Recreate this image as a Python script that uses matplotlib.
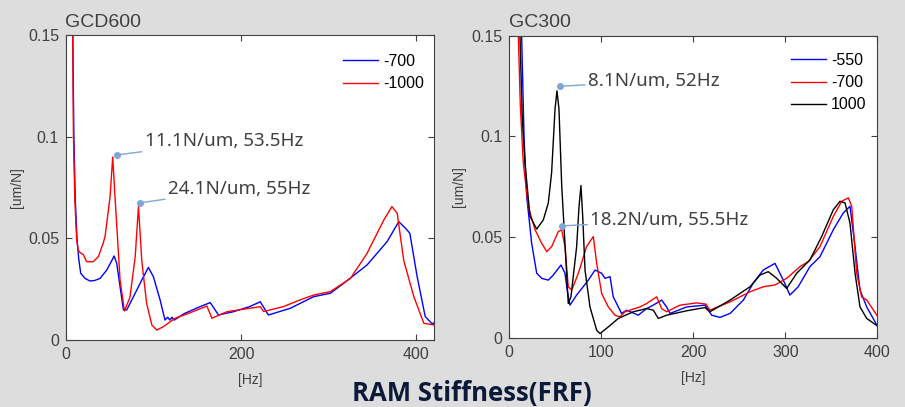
import numpy as np
import matplotlib.pyplot as plt

# GCD600 panel
gcd_hz_700 = [6.5, 7.7, 9, 10.5, 12.5, 14.5, 16.8, 21.7, 27.4, 33, 38.9, 46.5, 52.2, 54.9, 57.9,
              61.7, 65.5, 69.3, 77, 86.5, 94, 99.8, 107.4, 113, 116, 118.5, 121, 123.5, 125, 135,
              153, 164.6, 174, 191, 210, 221.7, 227.4, 231, 256, 282.6, 301.7, 317, 343.6,
              366.5, 379.8, 387.4, 392.4, 400.8, 410, 418, 420]
gcd_val_700 = [0.2, 0.15, 0.1, 0.07, 0.05, 0.04, 0.0328, 0.0303, 0.029, 0.0293, 0.0303, 0.0344,
               0.039, 0.0413, 0.0377, 0.0262, 0.0148, 0.0148, 0.0213, 0.0295, 0.0357, 0.0311,
               0.0197, 0.0098, 0.0112, 0.0098, 0.0112, 0.0098, 0.0102, 0.013, 0.0164, 0.0184,
               0.0123, 0.0139, 0.0165, 0.0188, 0.0148, 0.0123, 0.0156, 0.0213, 0.023, 0.0279,
               0.0369, 0.0484, 0.0582, 0.055, 0.0525, 0.0311, 0.0115, 0.0079, 0.0085]

gcd_hz_1000 = [6.5, 7.7, 8.4, 10, 12.2, 14, 16, 19.8, 23.6, 31, 37, 42.7, 44.6, 50.3, 53.3, 56,
               61.7, 66.7, 73, 79, 82.7, 86.5, 92, 98, 103.6, 111, 119, 124.6, 141.7, 160.8,
               166.5, 183.6, 221.7, 225.5, 248, 267, 282.6, 301.7, 324.6, 343.6, 362.7, 372,
               378, 385.5, 397, 408.4, 420]
gcd_val_1000 = [0.2, 0.15, 0.103, 0.07, 0.049, 0.0443, 0.043, 0.042, 0.0385, 0.0385, 0.041,
                0.048, 0.051, 0.0705, 0.090, 0.070, 0.0295, 0.0143, 0.021, 0.041, 0.0656,
                0.039, 0.018, 0.0074, 0.0049, 0.0065, 0.009, 0.0107, 0.0134, 0.0167, 0.0107,
                0.0139, 0.0164, 0.014, 0.0164, 0.0197, 0.0221, 0.0238, 0.0303, 0.0426, 0.059,
                0.0656, 0.0623, 0.039, 0.0213, 0.0082, 0.0074]

# GC300 panel
gc_hz_550 = [11, 13.4, 16, 18.9, 24.3, 29.8, 35.2, 42.4, 47.8, 56.2, 60.5, 63.5, 66, 73.2, 85.9,
             93.2, 100.4, 104, 109.5, 113, 118.5, 122, 127.6, 140.2, 149.3, 156.5, 165.6, 171,
             174.7, 192.8, 212.7, 220, 229, 240, 254.4, 265, 276, 288.8, 297.8, 305, 314,
             326.8, 337.7, 352.2, 363, 370.3, 375.8, 381.2, 388.5, 400]
gc_val_550 = [0.2, 0.15, 0.1, 0.0703, 0.047, 0.0321, 0.0296, 0.0287, 0.0312, 0.0362, 0.0321,
              0.0221, 0.0163, 0.0213, 0.0287, 0.0337, 0.0321, 0.0296, 0.0304, 0.0204, 0.0154,
              0.0122, 0.0138, 0.0113, 0.0146, 0.0163, 0.0188, 0.0154, 0.0122, 0.0154, 0.0163,
              0.0113, 0.0102, 0.0122, 0.0188, 0.0271, 0.0337, 0.037, 0.0287, 0.0213, 0.0254,
              0.0354, 0.0403, 0.0537, 0.062, 0.0653, 0.0453, 0.0238, 0.0154, 0.006]

gc_hz_700 = [8, 9.8, 12, 15.2, 20.6, 28, 35.2, 40.7, 46, 53.3, 57, 60.5, 64.1, 67.8, 75, 84,
             91.3, 95, 100.4, 107.6, 114.9, 120.3, 125.8, 133, 142, 149.3, 160.2, 165.6, 171,
             185.5, 203.7, 213.8, 218, 240, 261.6, 276, 288.8, 301.5, 316, 325, 337.7, 352.2,
             361.3, 368.5, 372.2, 377.6, 383, 388.5, 400]
gc_val_700 = [0.2, 0.15, 0.115, 0.0869, 0.0653, 0.0537, 0.047, 0.0428, 0.0453, 0.0528, 0.0537,
              0.0453, 0.0254, 0.0238, 0.032, 0.0453, 0.0503, 0.037, 0.0221, 0.0154, 0.0113,
              0.0105, 0.013, 0.0141, 0.0154, 0.0171, 0.0204, 0.0146, 0.013, 0.0163, 0.0174,
              0.0168, 0.0138, 0.0179, 0.0229, 0.0254, 0.0263, 0.0296, 0.0354, 0.0379, 0.0453,
              0.0603, 0.0678, 0.0695, 0.0653, 0.0321, 0.0204, 0.0188, 0.011]

gc_hz_1000 = [9, 11.6, 14, 17, 22.5, 29.8, 37, 42.4, 46, 49.7, 51.8, 54, 57, 60.5, 64.1, 67,
              73.2, 75.8, 77.9, 79.8, 82.3, 87.7, 95, 98.6, 107.6, 118.5, 134.8, 149.3, 156.5,
              162, 171, 192.8, 212.7, 218, 240, 261.6, 272.5, 281.5, 290.6, 301.5, 312.4,
              326.8, 339.5, 352.2, 359.5, 364.9, 370.3, 375.8, 381.2, 388.5, 400]
gc_val_1000 = [0.2, 0.15, 0.11, 0.0869, 0.0603, 0.054, 0.0586, 0.067, 0.082, 0.1135, 0.1226,
               0.1135, 0.0752, 0.047, 0.0171, 0.0204, 0.0453, 0.0653, 0.0756, 0.0603, 0.0337,
               0.0154, 0.0038, 0.0022, 0.0055, 0.0097, 0.013, 0.0146, 0.0138, 0.0097, 0.0113,
               0.0135, 0.0151, 0.013, 0.0188, 0.0254, 0.0312, 0.0329, 0.0296, 0.0246, 0.0321,
               0.0387, 0.0503, 0.0636, 0.0678, 0.067, 0.057, 0.0321, 0.0154, 0.0097, 0.006]

# annotations: (x, y, text)
gcd_notes = [(57.9, 0.091, '11.1N/um, 53.5Hz'), (84.6, 0.0675, '24.1N/um, 55Hz')]
gc_notes = [(55.1, 0.1248, '8.1N/um, 52Hz'), (57.6, 0.0556, '18.2N/um, 55.5Hz')]

W, H = 905, 407
fig = plt.figure(figsize=(W / 100, H / 100), dpi=100, facecolor='#dcdddc')
plt.rcParams['font.family'] = ['Liberation Sans', 'DejaVu Sans']

grey = '#404040'
note_col = '#7fa6d8'


def setup(ax, xmax, xticks, title, ylpad):
    ax.set_xlim(0, xmax)
    ax.set_ylim(0, 0.15)
    ax.set_xticks(xticks)
    ax.set_yticks([0, 0.05, 0.1, 0.15])
    ax.set_yticklabels(['0', '0.05', '0.1', '0.15'])
    ax.tick_params(direction='in', top=True, right=True, labelsize=11.5,
                   labelcolor=grey, color=grey, length=4, pad=5)
    for s in ax.spines.values():
        s.set_color(grey)
    ax.set_xlabel('[Hz]', fontsize=10, color=grey, labelpad=8)
    ax.set_ylabel('[um/N]', fontsize=10, color=grey, labelpad=ylpad)
    ax.set_title(title, loc='left', fontsize=14, color=grey, pad=6, x=-0.002)


def annotate(ax, notes, dx, dy):
    for x, y, txt in notes:
        ax.plot([x], [y], 'o', color=note_col, ms=4, zorder=5)
        ax.annotate(txt, xy=(x, y), xytext=(dx, dy), textcoords='offset points',
                    fontsize=13.5, color=grey, family=['Noto Sans', 'DejaVu Sans'],
                    va='center', ha='left',
                    arrowprops=dict(arrowstyle='-', color=note_col, lw=1,
                                    shrinkA=0, shrinkB=0))


leg_kw = dict(loc='upper left', frameon=False, fontsize=11.5, handlelength=2.2,
              handletextpad=0.3, labelspacing=0.45, borderpad=0, borderaxespad=0)

ax1 = fig.add_axes([66 / W, 1 - 340 / H, 368 / W, 305 / H])
ax1.plot(gcd_hz_700, gcd_val_700, color='#0000ff', lw=1, label='-700')
ax1.plot(gcd_hz_1000, gcd_val_1000, color='#ff0000', lw=1, label='-1000')
setup(ax1, 420, [0, 200, 400], 'GCD600', 3)
annotate(ax1, gcd_notes, 20, 10)
ax1.legend(bbox_to_anchor=((343 - 66) / 368, (340 - 54) / 305), **leg_kw)

ax2 = fig.add_axes([509.3 / W, 1 - 338 / H, 368 / W, 302.5 / H])
ax2.plot(gc_hz_550, gc_val_550, color='#0000ff', lw=1, label='-550')
ax2.plot(gc_hz_700, gc_val_700, color='#ff0000', lw=1, label='-700')
ax2.plot(gc_hz_1000, gc_val_1000, color='black', lw=1, label='1000')
setup(ax2, 400, [0, 100, 200, 300, 400], 'GC300', 4)
annotate(ax2, gc_notes, 20, 4)
ax2.legend(bbox_to_anchor=((791 - 509.3) / 368, (338 - 53) / 302.5), **leg_kw)

fig.text(472 / W, 1 - 401 / H, 'RAM Stiffness(FRF)', ha='center', va='baseline',
         fontsize=18.5, fontweight='bold', color='#0c1a3a',
         family=['Open Sans', 'DejaVu Sans'])

fig.savefig('out.png', dpi=100, facecolor=fig.get_facecolor())
